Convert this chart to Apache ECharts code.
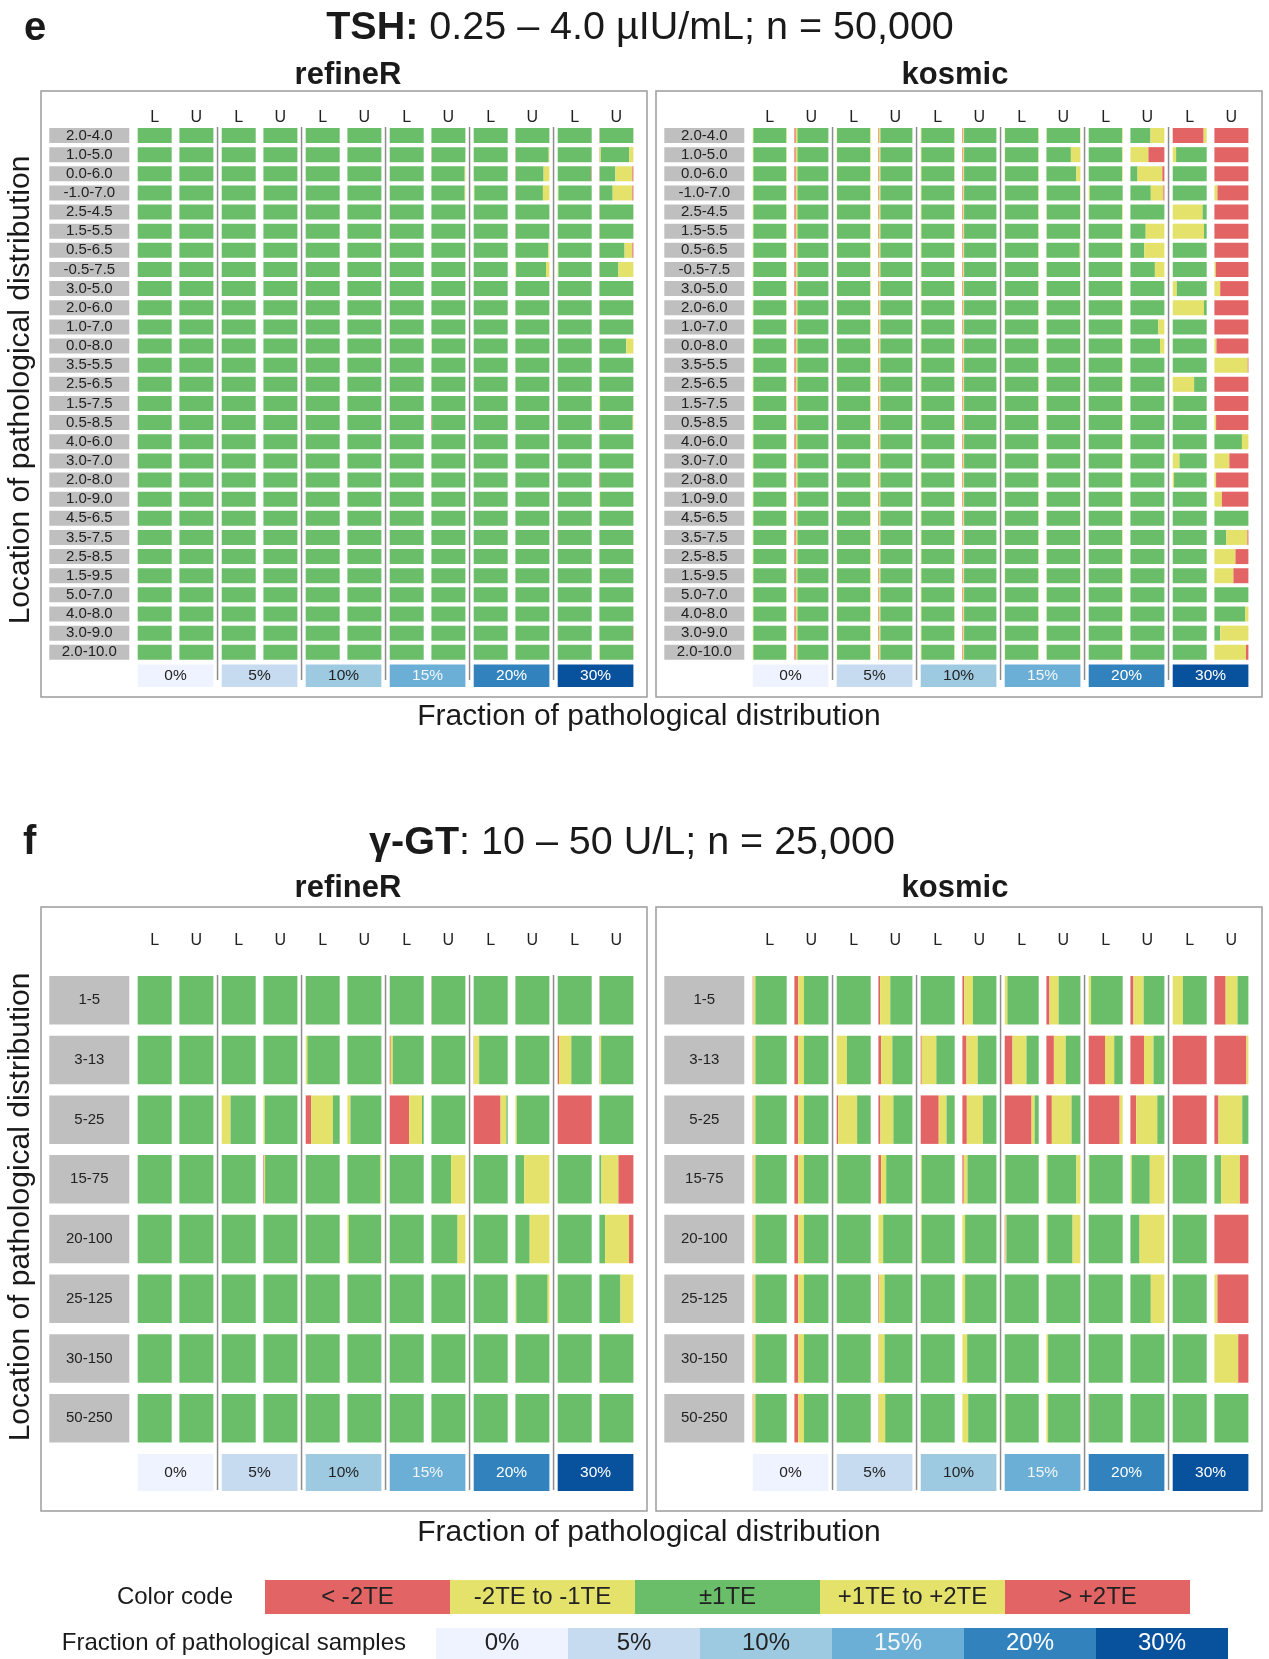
<!DOCTYPE html>
<html>
<head>
<meta charset="utf-8">
<script src="https://cdn.jsdelivr.net/npm/echarts@6/dist/echarts.min.js"></script>
<style>
  html, body { margin: 0; padding: 0; background: #ffffff; }
  #chart { width: 1269px; height: 1659px; }
</style>
</head>
<body>
<div id="chart"></div>
<script>
// ---------- categories ----------
const tshRows = ['2.0-4.0','1.0-5.0','0.0-6.0','-1.0-7.0','2.5-4.5','1.5-5.5','0.5-6.5','-0.5-7.5',
  '3.0-5.0','2.0-6.0','1.0-7.0','0.0-8.0','3.5-5.5','2.5-6.5','1.5-7.5','0.5-8.5',
  '4.0-6.0','3.0-7.0','2.0-8.0','1.0-9.0','4.5-6.5','3.5-7.5','2.5-8.5','1.5-9.5',
  '5.0-7.0','4.0-8.0','3.0-9.0','2.0-10.0'];
const ggtRows = ['1-5','3-13','5-25','15-75','20-100','25-125','30-150','50-250'];
const fractions = ['0%','5%','10%','15%','20%','30%'];
const limits = ['L','U'];
const errorClasses = ['< -2TE','-2TE to -1TE','\u00B11TE','+1TE to +2TE','> +2TE'];

// ---------- values ----------
// Columns: 0 = 0% L, 1 = 0% U, 2 = 5% L, 3 = 5% U, ... 10 = 30% L, 11 = 30% U.
// Cell entries: [row, column, % < -2TE, % -2TE..-1TE, % +1TE..+2TE, % > +2TE];
// the ±1TE share is whatever remains of 100 %. Cells not listed are entirely within ±1TE.
const tshRefineR = [
  [0,11, 1,0,0,0],
  [1,7, 1,0,0,0], [1,9, 1,0,2,0], [1,11, 1,3,12,0],
  [2,7, 0,0,2,0], [2,9, 1,0,17,0], [2,10, 0,0,0,1], [2,11, 1,0,50,3],
  [3,3, 0,1,0,0], [3,7, 0,0,2,0], [3,8, 0,2,0,0], [3,9, 1,0,19,0], [3,10, 0,2,0,0], [3,11, 1,0,58,3],
  [4,11, 1,0,0,0],
  [5,9, 1,0,0,0], [5,11, 1,0,0,0],
  [6,9, 0,0,3,0], [6,11, 1,0,23,3],
  [7,9, 0,2,10,0], [7,10, 0,2,0,0], [7,11, 1,0,44,0],
  [9,11, 1,0,0,0],
  [10,11, 1,0,0,0],
  [11,7, 0,1,0,0], [11,11, 1,0,21,0],
  [14,11, 0,2,0,0],
  [15,7, 2,0,0,0], [15,11, 2,0,2,0],
  [18,11, 2,0,0,0],
  [19,11, 0,2,0,0],
  [21,10, 1,0,0,0],
  [23,11, 0,1,0,0],
  [26,10, 1,0,0,0], [26,11, 0,0,0,1],
  [27,11, 0,1,0,0]
];

// kosmic on TSH: small deviations repeat down every row of the low-fraction columns
const tshKosmicColumnBase = [
  [0,2,1,0], [4,5,0,0], [0,1,2,0], [2,4,0,0], [0,2,1,0], [2,3,0,0],
  [0,1,1,0], [0,1,1,0], [0,0,2,0], [0,0,0,0], [0,0,0,0], [0,0,0,0]
];
const tshKosmic = [
  [0,9, 0,0,41,0], [0,10, 91,9,0,0], [0,11, 0,0,0,100],
  [1,7, 0,0,28,0], [1,9, 0,0,53,47], [1,10, 0,10,0,0], [1,11, 0,0,0,100],
  [2,7, 0,0,12,0], [2,9, 0,0,73,6], [2,11, 0,0,0,100],
  [3,8, 0,3,0,0], [3,9, 0,0,37,3], [3,11, 0,0,9,91],
  [4,10, 0,88,0,0], [4,11, 0,0,0,100],
  [5,9, 0,0,55,0], [5,10, 0,92,0,0], [5,11, 0,0,0,100],
  [6,7, 0,0,2,0], [6,9, 0,0,59,0], [6,11, 0,0,0,100],
  [7,9, 0,0,28,0], [7,11, 0,0,4,96],
  [8,10, 0,12,0,0], [8,11, 0,0,17,83],
  [9,10, 0,92,0,0], [9,11, 0,0,0,100],
  [10,9, 0,0,18,0], [10,11, 0,0,0,100],
  [11,9, 0,0,13,0], [11,11, 0,0,6,94],
  [12,11, 0,0,98,2],
  [13,10, 0,63,0,0], [13,11, 0,0,0,100],
  [14,10, 0,2,0,0], [14,11, 0,0,0,100],
  [15,11, 0,0,5,95],
  [16,11, 0,0,19,0],
  [17,10, 0,20,0,0], [17,11, 0,0,44,56],
  [18,10, 0,4,0,0], [18,11, 0,0,5,95],
  [19,11, 0,0,22,78],
  [21,11, 0,0,62,3],
  [22,11, 0,0,62,38],
  [23,11, 0,0,56,44],
  [25,11, 0,0,9,0],
  [26,11, 0,0,83,0],
  [27,11, 0,0,93,7]
];

const ggtRefineR = [
  [0,7, 1,0,0,0], [0,11, 1,0,0,0],
  [1,4, 0,5,0,0], [1,6, 3,6,0,0], [1,7, 1,0,0,0], [1,8, 1,15,0,0], [1,10, 4,36,0,0], [1,11, 1,4,0,0],
  [2,2, 0,26,0,0], [2,3, 0,4,0,0], [2,4, 16,64,0,0], [2,5, 0,9,0,0], [2,6, 57,38,0,0],
  [2,8, 79,17,0,0], [2,9, 0,4,0,0], [2,10, 100,0,0,0],
  [3,3, 2,3,0,0], [3,5, 0,0,3,0], [3,7, 0,0,42,0], [3,9, 0,0,74,0], [3,11, 0,0,50,44],
  [4,5, 0,4,1,0], [4,7, 0,0,23,0], [4,9, 0,0,58,0], [4,11, 0,0,70,13],
  [5,5, 1,0,0,0], [5,9, 0,3,5,0], [5,11, 0,0,38,0],
  [6,9, 1,0,0,0], [6,11, 1,0,0,0],
  [7,11, 1,0,0,0]
];

const ggtKosmic = [
  [0,0, 2,6,0,0], [0,1, 11,17,0,0], [0,3, 5,30,0,0], [0,5, 5,26,0,0], [0,6, 0,8,0,0],
  [0,7, 9,27,0,0], [0,8, 0,7,0,0], [0,9, 9,30,0,0], [0,10, 0,30,0,0], [0,11, 33,35,0,0],
  [1,0, 2,6,0,0], [1,1, 11,17,0,0], [1,2, 0,30,0,0], [1,3, 8,33,0,0], [1,4, 3,43,0,0], [1,5, 12,33,0,0],
  [1,6, 23,41,0,0], [1,7, 22,35,0,0], [1,8, 48,27,0,0], [1,9, 40,28,0,0], [1,10, 100,0,0,0], [1,11, 94,6,0,0],
  [2,0, 2,6,0,0], [2,1, 11,17,0,0], [2,2, 4,56,0,0], [2,3, 6,38,0,0], [2,4, 53,23,0,0], [2,5, 13,47,0,0],
  [2,6, 79,9,0,0], [2,7, 16,58,0,0], [2,8, 91,9,0,0], [2,9, 17,62,0,0], [2,10, 100,0,0,0], [2,11, 12,70,0,0],
  [3,0, 2,6,0,0], [3,1, 11,17,0,0], [3,2, 0,2,0,0], [3,3, 8,15,0,0], [3,4, 0,3,0,0], [3,5, 4,11,0,0],
  [3,6, 0,2,0,0], [3,7, 0,3,12,0], [3,8, 0,2,0,0], [3,9, 0,4,43,0], [3,11, 0,0,55,25],
  [4,0, 2,6,0,0], [4,1, 11,17,0,0], [4,3, 0,14,0,0], [4,4, 0,3,0,0], [4,5, 0,8,0,0], [4,6, 2,3,0,0],
  [4,7, 0,3,23,0], [4,9, 0,0,73,0], [4,11, 0,0,0,100],
  [5,0, 2,6,0,0], [5,1, 11,17,0,0], [5,3, 2,16,0,0], [5,5, 0,8,0,0], [5,9, 0,0,40,0], [5,11, 0,0,9,91],
  [6,0, 2,6,0,0], [6,1, 11,17,0,0], [6,3, 1,17,0,0], [6,5, 0,14,0,0], [6,7, 0,5,0,0], [6,11, 0,0,70,30],
  [7,0, 2,6,0,0], [7,1, 11,17,0,0], [7,3, 1,19,0,0], [7,5, 0,17,0,0], [7,6, 0,2,0,0], [7,7, 0,5,0,0], [7,8, 2,0,0,0]
];

// ---------- styling ----------
const FONT = '"Liberation Sans", Arial, Helvetica, sans-serif';
const INK = '#1a1a1a';
const classColors = ['#E36464', '#E4E26B', '#6ABE6A', '#E4E26B', '#E36464'];
const fractionColors = ['#EFF3FF', '#C6DBEF', '#9ECAE1', '#6BAED6', '#3182BD', '#08519C'];
const fractionInk = ['#222222', '#222222', '#222222', '#F2F6FA', '#FFFFFF', '#FFFFFF'];

const PANEL_W = 606;
const BAR_W = 34;
const PAIR_STEP = 41.7;       // L to U within one fraction
const GROUP_STEP = 84;        // one fraction to the next
const FIRST_BAR = 96.7;       // first bar, from the panel's left edge
const GROUP_W = PAIR_STEP + BAR_W;
const LABEL_BOX_W = 80;
const LABEL_MARGIN = 8.4;

const TSH_LAYOUT = { rowsTop: 128, pitch: 19.14, barH: 15, headerY: 118, panelTop: 91, panelBottom: 697,
  pctTop: 663.5, pctH: 22.5, sepTop: 127, sepBottom: 680 };
const GGT_LAYOUT = { rowsTop: 976, pitch: 59.7, barH: 48.5, headerY: 941, panelTop: 907, panelBottom: 1511,
  pctTop: 1453, pctH: 37, sepTop: 975, sepBottom: 1490 };

function colX(c) { return FIRST_BAR + GROUP_STEP * Math.floor(c / 2) + PAIR_STEP * (c % 2); }

function buildCells(nRows, columnBase, entries) {
  const cells = [];
  for (let r = 0; r < nRows; r++) {
    const row = [];
    for (let c = 0; c < 12; c++) row.push(columnBase ? columnBase[c].slice() : [0, 0, 0, 0]);
    cells.push(row);
  }
  entries.forEach(([r, c, a, b, d, e]) => { cells[r][c] = [a, b, d, e]; });
  return cells;
}
function segments(cell) {
  const [a, b, d, e] = cell;
  return [a, b, Math.max(0, 100 - a - b - d - e), d, e];
}

const panels = [
  { x: 41,  layout: TSH_LAYOUT, rows: tshRows, cells: buildCells(tshRows.length, null, tshRefineR) },
  { x: 656, layout: TSH_LAYOUT, rows: tshRows, cells: buildCells(tshRows.length, tshKosmicColumnBase, tshKosmic) },
  { x: 41,  layout: GGT_LAYOUT, rows: ggtRows, cells: buildCells(ggtRows.length, null, ggtRefineR) },
  { x: 656, layout: GGT_LAYOUT, rows: ggtRows, cells: buildCells(ggtRows.length, null, ggtKosmic) }
];

const option = {
  animation: false,
  backgroundColor: '#ffffff',
  grid: [], xAxis: [], yAxis: [], series: [], graphic: []
};
const G = option.graphic;

function text(x, y, str, size, extra) {
  G.push(Object.assign({
    type: 'text', x: x, y: y, silent: true,
    style: Object.assign({ text: str, fontFamily: FONT, fontSize: size, fill: INK,
      align: 'center', verticalAlign: 'middle' }, (extra && extra.style) || {})
  }, extra && extra.rotation !== undefined ? { rotation: extra.rotation } : {}));
}

panels.forEach((p) => {
  const L = p.layout;
  const n = p.rows.length;
  const gridTop = L.rowsTop - (L.pitch - L.barH) / 2;
  const gridH = L.pitch * n;

  // panel frame
  G.push({ type: 'rect', silent: true, z: -1,
    shape: { x: p.x, y: L.panelTop, width: PANEL_W, height: L.panelBottom - L.panelTop },
    style: { fill: 'none', stroke: '#9c9c9c', lineWidth: 1.5 } });

  // separators between fraction groups
  for (let g = 1; g < 6; g++) {
    const sx = p.x + FIRST_BAR + GROUP_STEP * g - (GROUP_STEP - GROUP_W) / 2;
    G.push({ type: 'line', silent: true,
      shape: { x1: sx, y1: L.sepTop, x2: sx, y2: L.sepBottom },
      style: { stroke: '#8d8d8d', lineWidth: 1.5 } });
  }

  for (let c = 0; c < 12; c++) {
    const gi = option.grid.length;
    option.grid.push({ left: p.x + colX(c), top: gridTop, width: BAR_W, height: gridH,
      containLabel: false, outerBoundsMode: 'none' });
    option.xAxis.push({
      gridIndex: gi, type: 'value', min: 0, max: 100, position: 'top',
      axisLine: { show: false }, axisTick: { show: false }, axisLabel: { show: false }, splitLine: { show: false },
      name: limits[c % 2], nameLocation: 'middle', nameGap: gridTop - L.headerY,
      nameTextStyle: { fontFamily: FONT, fontSize: 16, color: '#222', verticalAlign: 'middle' }
    });
    option.yAxis.push({
      gridIndex: gi, type: 'category', inverse: true, data: p.rows, show: c === 0,
      axisLine: { show: false }, axisTick: { show: false }, splitLine: { show: false },
      axisLabel: {
        interval: 0, margin: LABEL_MARGIN,
        formatter: (v) => '{box|' + v + '}',
        rich: { box: { width: LABEL_BOX_W, height: L.barH, lineHeight: L.barH, align: 'center',
          verticalAlign: 'middle', backgroundColor: '#BFBFBF', color: '#222',
          fontFamily: FONT, fontSize: 15 } }
      }
    });
    for (let k = 0; k < 5; k++) {
      option.series.push({
        type: 'bar', name: errorClasses[k], xAxisIndex: gi, yAxisIndex: gi, stack: 'cell' + gi,
        barWidth: L.barH, silent: true,
        itemStyle: { color: classColors[k] },
        data: p.cells.map((row) => segments(row[c])[k])
      });
    }
  }

  // fraction boxes beneath each L/U pair
  const gi = option.grid.length;
  const rich = {};
  fractions.forEach((f, i) => {
    rich['f' + i] = { width: GROUP_W, height: L.pctH, lineHeight: L.pctH, align: 'center',
      verticalAlign: 'middle', backgroundColor: fractionColors[i], color: fractionInk[i],
      fontFamily: FONT, fontSize: 15.5 };
  });
  option.grid.push({ left: p.x + FIRST_BAR - (GROUP_STEP - GROUP_W) / 2, top: L.pctTop - 1,
    width: GROUP_STEP * 6, height: 1, containLabel: false, outerBoundsMode: 'none' });
  option.xAxis.push({
    gridIndex: gi, type: 'category', data: fractions, position: 'bottom',
    axisLine: { show: false }, axisTick: { show: false }, splitLine: { show: false },
    axisLabel: { interval: 0, margin: 1, formatter: (v, i) => '{f' + i + '|' + v + '}', rich: rich }
  });
  option.yAxis.push({ gridIndex: gi, type: 'value', show: false });
});

// ---------- titles ----------
const titleRich = (size) => ({
  b: { fontFamily: FONT, fontSize: size, fontWeight: 'bold', fill: INK, color: INK },
  r: { fontFamily: FONT, fontSize: size, fill: INK, color: INK }
});
text(24, 29, 'e', 40, { style: { fontWeight: 'bold', align: 'left' } });
G.push({ type: 'text', x: 640, y: 28, silent: true,
  style: { text: '{b|TSH:}{r| 0.25 \u2013 4.0 \u00B5IU/mL; n = 50,000}', rich: titleRich(39.5),
    fontFamily: FONT, fontSize: 39.5, align: 'center', verticalAlign: 'middle', fill: INK } });
text(348, 75, 'refineR', 31, { style: { fontWeight: 'bold' } });
text(955, 75, 'kosmic', 31, { style: { fontWeight: 'bold' } });
text(649, 717, 'Fraction of pathological distribution', 30);
text(21, 390, 'Location of pathological distribution', 30, { rotation: Math.PI / 2 });

text(23, 843, 'f', 40, { style: { fontWeight: 'bold', align: 'left' } });
G.push({ type: 'text', x: 632, y: 843, silent: true,
  style: { text: '{b|\u03B3-GT}{r|: 10 \u2013 50 U/L; n = 25,000}', rich: titleRich(39.5),
    fontFamily: FONT, fontSize: 39.5, align: 'center', verticalAlign: 'middle', fill: INK } });
text(348, 888, 'refineR', 31, { style: { fontWeight: 'bold' } });
text(955, 888, 'kosmic', 31, { style: { fontWeight: 'bold' } });
text(649, 1533, 'Fraction of pathological distribution', 30);
text(21, 1207, 'Location of pathological distribution', 30, { rotation: Math.PI / 2 });

// ---------- key ----------
const KEY_X = 265, KEY_W = 185, KEY_Y = 1580, KEY_H = 34;
text(233, KEY_Y + KEY_H / 2, 'Color code', 24, { style: { align: 'right' } });
errorClasses.forEach((lab, i) => {
  G.push({ type: 'rect', silent: true, shape: { x: KEY_X + KEY_W * i, y: KEY_Y, width: KEY_W, height: KEY_H },
    style: { fill: classColors[i] } });
  text(KEY_X + KEY_W * i + KEY_W / 2, KEY_Y + KEY_H / 2, lab, 24, { style: { fill: '#222' } });
});
const FR_X = 436, FR_W = 132, FR_Y = 1628, FR_H = 31;
text(406, FR_Y + FR_H / 2, 'Fraction of pathological samples', 24, { style: { align: 'right' } });
fractions.forEach((lab, i) => {
  G.push({ type: 'rect', silent: true, shape: { x: FR_X + FR_W * i, y: FR_Y, width: FR_W, height: FR_H },
    style: { fill: fractionColors[i] } });
  text(FR_X + FR_W * i + FR_W / 2, FR_Y + FR_H / 2, lab, 24, { style: { fill: fractionInk[i] } });
});

const chart = echarts.init(document.getElementById('chart'), null, { renderer: 'canvas', width: 1269, height: 1659 });
chart.setOption(option);
</script>
</body>
</html>
